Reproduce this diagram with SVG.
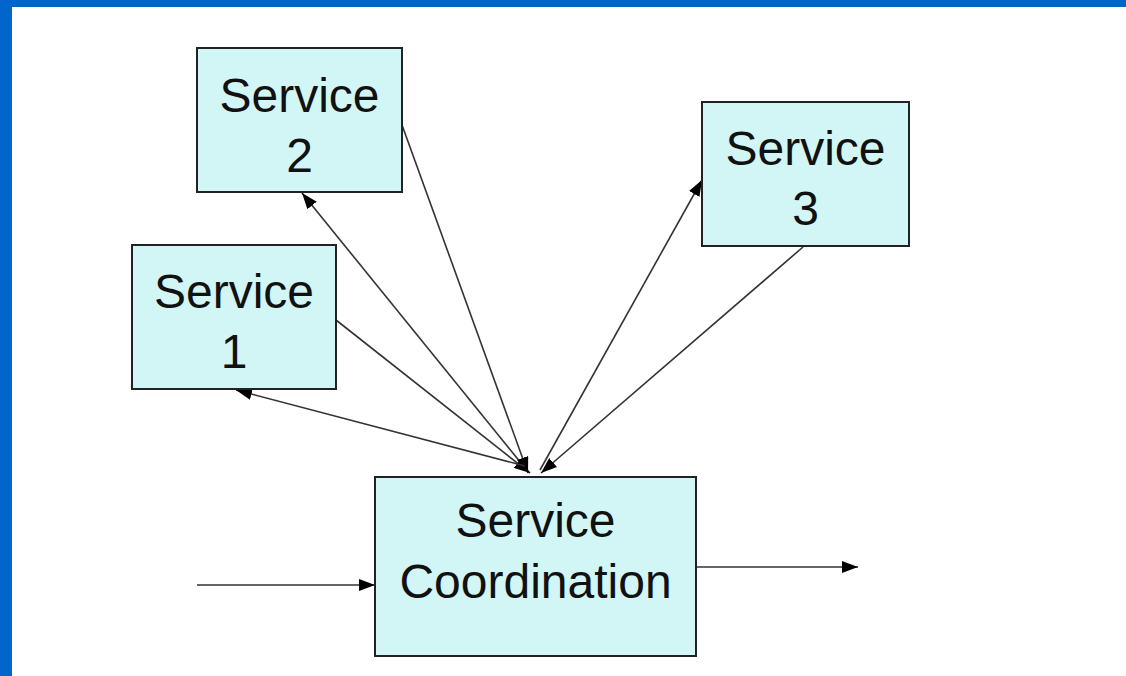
<svg xmlns="http://www.w3.org/2000/svg" width="1126" height="676" viewBox="0 0 1126 676">
<defs>
<marker id="ah" viewBox="0 0 16 12" refX="16" refY="6" markerWidth="16" markerHeight="12" markerUnits="userSpaceOnUse" orient="auto">
<path d="M0,0 L16,6 L0,12 Z" fill="#000"/>
</marker>
<style>
.box{fill:#d2f6f6;stroke:#222;stroke-width:2}
.lbl{font-family:"Liberation Sans",Arial,sans-serif;font-size:48px;fill:#111;text-anchor:middle}
.c{stroke:#333;stroke-width:1.6;fill:none;marker-end:url(#ah)}
</style>
</defs>
<rect width="1126" height="676" fill="#fff"/>
<rect x="0" y="0" width="1126" height="7" fill="#0066cc"/>
<rect x="0" y="0" width="12" height="676" fill="#0066cc"/>
<g id="connectors">
<line class="c" x1="525" y1="468" x2="302" y2="193"/>
<line class="c" x1="402" y1="125" x2="528" y2="473"/>
<line class="c" x1="336" y1="320" x2="530" y2="473"/>
<line class="c" x1="525" y1="466" x2="236" y2="390"/>
<line class="c" x1="540" y1="470" x2="702" y2="180"/>
<line class="c" x1="803" y1="247" x2="541" y2="473"/>
<line class="c" x1="197" y1="585" x2="375" y2="585"/>
<line class="c" x1="696" y1="567" x2="858" y2="567"/>
</g>
<g id="service2">
<rect class="box" x="197" y="48" width="205" height="144"/>
<text class="lbl" x="299.5" y="112">Service</text>
<text class="lbl" x="299.5" y="172">2</text>
</g>
<g id="service3">
<rect class="box" x="702" y="102" width="207" height="144"/>
<text class="lbl" x="805.5" y="165">Service</text>
<text class="lbl" x="805.5" y="225">3</text>
</g>
<g id="service1">
<rect class="box" x="132" y="245" width="204" height="144"/>
<text class="lbl" x="234" y="308">Service</text>
<text class="lbl" x="234" y="368">1</text>
</g>
<g id="coordination">
<rect class="box" x="375" y="477" width="321" height="179"/>
<text class="lbl" x="535.5" y="537">Service</text>
<text class="lbl" x="535.5" y="598">Coordination</text>
</g>
</svg>
